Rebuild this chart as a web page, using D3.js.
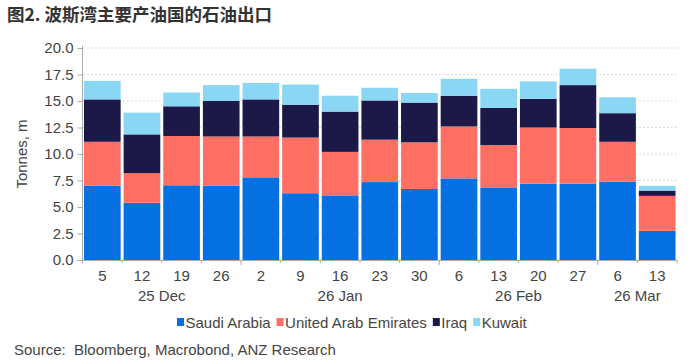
<!DOCTYPE html>
<html><head><meta charset="utf-8">
<script src="https://cdn.jsdelivr.net/npm/d3@7"></script>
<style>
body{margin:0;background:#fff;}
svg{display:block;}
</style></head>
<body>
<svg id="c" width="699" height="364"></svg>
<script>
const title = "图2. 波斯湾主要产油国的石油出口";
const source = "Source:  Bloomberg, Macrobond, ANZ Research";
const dayLabels = ["5","12","19","26","2","9","16","23","30","6","13","20","27","6","13"];
const months = [{label:"25 Dec", start:0, end:4},{label:"26 Jan", start:4, end:9},{label:"26 Feb", start:9, end:13},{label:"26 Mar", start:13, end:15}];
const seriesNames = ["Saudi Arabia","United Arab Emirates","Iraq","Kuwait"];
const saudi  = [7.0,5.4,7.05,7.0,7.8,6.3,6.1,7.35,6.7,7.7,6.85,7.2,7.2,7.4,2.75];
const uae    = [4.15,2.8,4.65,4.65,3.85,5.25,4.1,4.0,4.4,4.9,4.0,5.3,5.25,3.75,3.3];
const iraq   = [4.0,3.65,2.8,3.35,3.5,3.1,3.8,3.7,3.75,2.9,3.5,2.7,4.05,2.7,0.5];
const kuwait = [1.75,2.05,1.3,1.5,1.55,1.9,1.5,1.2,0.9,1.6,1.8,1.65,1.55,1.5,0.45];
const yTicks = [0,2.5,5,7.5,10,12.5,15,17.5,20];
const colors = ["#0570e2","#ff6f64","#1c1848","#8ad7f5"];

const svg = d3.select("#c");
const font = "'Liberation Sans', Arial, sans-serif";
const fs = 15;
const x = d3.scaleBand().domain(d3.range(dayLabels.length)).range([82.5,677]).paddingInner(0.075).paddingOuter(0.0375);
const y = d3.scaleLinear().domain([0,20]).range([260,48]);

// title
svg.append("text").attr("x",7).attr("y",21).text(title)
  .attr("font-family","'Noto Sans CJK SC', sans-serif").attr("font-weight","bold").attr("font-size",17.5).attr("fill","#333");

// gridlines
svg.append("g").selectAll("line").data(yTicks.filter(d=>d>0)).join("line")
  .attr("x1",83).attr("x2",677).attr("y1",d=>y(d)).attr("y2",d=>y(d))
  .attr("stroke","#dcdcdc").attr("stroke-dasharray","2,2").attr("stroke-width",1);

// stacked data
const rows = dayLabels.map((d,i)=>({i, "Saudi Arabia":saudi[i], "United Arab Emirates":uae[i], "Iraq":iraq[i], "Kuwait":kuwait[i]}));
const stack = d3.stack().keys(seriesNames)(rows);
svg.append("g").selectAll("g").data(stack).join("g").attr("fill",(d,k)=>colors[k])
  .selectAll("rect").data(d=>d).join("rect")
  .attr("x",d=>x(d.data.i)).attr("width",x.bandwidth())
  .attr("y",d=>y(d[1])).attr("height",d=>y(d[0])-y(d[1]));

// y axis
const yAxis = d3.axisLeft(y).tickValues(yTicks).tickFormat(d3.format(".1f")).tickSize(5).tickPadding(4);
const yg = svg.append("g").attr("transform","translate(82.5,0)").call(yAxis);
yg.select(".domain").attr("stroke","#aaa").attr("d","M0,46V260");
yg.selectAll(".tick line").attr("stroke","#aaa");
yg.selectAll("text").attr("font-family",font).attr("font-size",fs).attr("fill","#444");

// x axis
svg.append("line").attr("x1",82.5).attr("x2",677).attr("y1",260.5).attr("y2",260.5).attr("stroke","#aaa");
const step = x.step();
const x0 = x.range()[0];
const monthBounds = new Set(months.map(m=>m.end));
svg.append("g").selectAll("line").data(d3.range(0,dayLabels.length+1)).join("line")
  .attr("x1",i=>x0+i*step).attr("x2",i=>x0+i*step)
  .attr("y1",260).attr("y2",i=>(monthBounds.has(i)&&i<dayLabels.length)?265:263)
  .attr("stroke","#aaa");
svg.append("g").selectAll("text").data(dayLabels).join("text")
  .attr("x",(d,i)=>x(i)+x.bandwidth()/2).attr("y",281).attr("text-anchor","middle")
  .attr("font-family",font).attr("font-size",fs).attr("fill","#444").text(d=>d);
svg.append("g").selectAll("text").data(months).join("text")
  .attr("x",m=>x0+(m.start+m.end)/2*step).attr("y",301).attr("text-anchor","middle")
  .attr("font-family",font).attr("font-size",fs).attr("fill","#444").text(m=>m.label);

// y label
svg.append("text").attr("transform","translate(27,154) rotate(-90)").attr("text-anchor","middle")
  .attr("font-family",font).attr("font-size",fs).attr("fill","#444").text("Tonnes, m");

// legend
const lg = svg.append("g");
let lx = 177;
seriesNames.forEach((n,k)=>{
  lg.append("rect").attr("x",lx).attr("y",318).attr("width",7).attr("height",8).attr("fill",colors[k]);
  const t = lg.append("text").attr("x",lx+8.5).attr("y",328).attr("font-family",font).attr("font-size",fs).attr("fill","#444").text(n);
  lx += 8.5 + t.node().getComputedTextLength() + 6;
});

// source
svg.append("text").attr("x",14).attr("y",355).attr("font-family",font).attr("font-size",fs).attr("fill","#444")
  .attr("xml:space","preserve").style("white-space","pre").text(source);
</script>
</body></html>
